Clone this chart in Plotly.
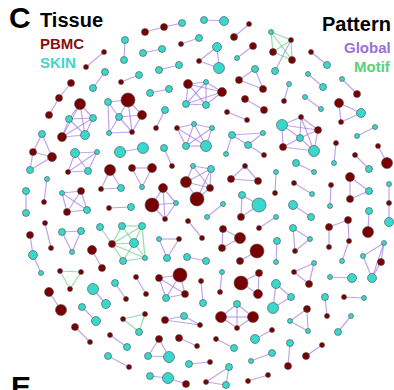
import plotly.graph_objects as go

# ---------------- data ----------------
node_x = [125,124,104,86,105,93,121,139,71,59,49,80,69,93,62,85,108,128,119,142,
          109,132,145,164,182,204,224,249,234,181,199,143,162,217,219,199,253,237,159,179,
          188,206,222,186,206,255,239,263,245,264,150,169,165,156,227,247,177,194,212,186,
          206,271,291,273,292,275,311,327,308,323,289,284,305,321,342,357,339,361,341,282,
          263,318,300,283,314,232,248,226,264,375,357,336,334,378,387,355,369,296,314,276,
          275,350,369,350,389,389,389,294,312,331,330,293,311,369,368,348,329,329,349,342,
          384,363,381,372,276,259,293,310,295,277,276,242,259,241,223,207,245,231,258,193,
          211,186,210,197,163,176,152,165,164,172,132,152,142,120,143,42,33,52,30,75,
          97,68,88,110,101,121,47,44,26,26,62,81,67,87,109,131,45,51,30,33,
          41,62,81,72,100,122,142,112,134,123,145,92,102,159,179,188,202,223,240,222,
          257,240,115,126,60,81,70,49,61,93,106,82,96,75,90,110,127,108,129,123,
          145,139,136,146,159,180,166,185,167,187,206,201,203,222,220,241,259,258,165,184,
          200,221,237,253,237,159,148,169,179,197,216,234,255,272,251,272,189,210,150,168,
          186,206,229,226,248,268,314,294,309,330,352,325,327,344,364,276,291,273,307,290,
          308,351,338,290,288,322,306,301]
node_y = [40,60,52,67,72,88,82,75,83,98,115,104,119,118,137,135,102,100,117,115,
          133,132,32,27,23,20,21,24,37,44,38,53,49,47,68,61,46,58,70,65,
          84,82,92,104,105,69,80,89,99,110,93,89,110,128,112,120,128,124,128,146,
          146,32,40,52,60,71,52,65,74,87,84,101,97,109,79,94,103,113,122,125,
          133,130,138,147,151,135,145,154,155,127,136,143,163,146,163,155,169,163,172,172,
          193,177,191,199,184,203,222,183,194,185,206,205,217,211,232,220,227,247,241,261,
          243,256,262,278,217,228,228,239,251,241,262,195,205,217,204,217,166,179,181,166,
          169,182,188,199,188,203,205,219,148,166,168,168,187,152,148,134,152,157,170,153,
          152,172,171,170,189,188,179,202,191,213,193,191,212,210,208,207,223,248,235,255,
          273,232,231,252,227,226,226,244,243,261,258,250,268,239,239,221,238,229,238,248,
          251,261,283,299,271,272,289,292,310,289,304,307,321,327,342,335,347,356,367,319,
          314,332,277,294,278,275,298,294,258,257,261,281,303,272,292,283,273,294,320,316,
          325,317,304,317,328,339,356,357,338,346,339,348,339,330,361,353,364,362,376,378,
          384,382,367,385,381,375,263,272,284,277,278,297,316,297,298,284,297,308,309,321,
          331,316,332,343,366,345,356,117]
node_tissue = list(
    "SSPPSSPSPPPPSSPSSPSP"
    "SPPPSSSPPPSSSSSPPSSS"
    "PSPSSSPPPPSSSPPPPSSS"
    "SSPPPSPSSSSPSSSPPSPS"
    "SPSPSSSSPSSPSPPPSSSS"
    "PPSPSPSPSPSSSSPPPPPS"
    "SSPSSPSSPSSSSPSSPPPS"
    "SPPPPSPPSPPPSSSSPPSS"
    "SPSPPSSPSSSPPSPSPPPS"
    "SSSSSSSPSSSPPSPPPPPP"
    "PPSPPPPPPSSSSPPPSSPP"
    "PSPPPPSPSSSPSSPPPPPS"
    "PPSPPPSSPPPSSPSSSPSS"
    "PPSSPPSPPSSSPPSSSSPS"
    "SSSSPPPP")
node_clones = [2,2,1,1,2,2,1,2,2,2,2,4,2,2,3,3,2,5,2,3,
               1,1,2,2,2,2,3,1,2,1,2,2,2,3,4,1,2,1,2,2,
               3,1,3,2,2,2,2,2,2,2,2,2,2,1,1,1,1,1,1,2,
               4,1,1,2,2,2,1,2,1,2,1,1,1,1,1,2,3,3,1,4,
               1,2,2,2,4,2,2,1,1,1,1,1,1,1,4,1,2,2,1,1,
               1,3,2,2,1,1,3,1,1,1,1,3,2,2,4,2,2,1,1,1,
               1,1,2,3,1,1,2,1,1,2,1,2,5,2,1,1,1,2,2,1,
               2,4,2,5,3,1,5,1,2,1,2,3,1,4,4,2,2,3,2,3,
               1,1,2,4,1,2,1,1,2,2,1,2,2,2,1,2,1,1,2,3,
               1,2,2,1,2,2,2,2,3,2,1,3,2,1,1,1,1,2,4,2,
               5,2,2,1,1,1,1,3,4,4,3,2,3,2,1,1,2,2,1,1,
               1,2,1,1,2,5,2,2,2,2,2,1,2,1,1,5,2,3,2,2,
               1,4,2,4,1,2,2,4,2,1,1,2,3,1,1,2,2,1,2,4,
               2,1,2,2,1,1,1,1,2,1,3,2,1,1,1,3,2,4,2,1,
               1,1,2,2,2,1,2,1]

global_from = [1,3,5,7,9,10,12,12,12,12,13,13,13,14,14,15,17,17,18,18,19,19,19,21,20,18,17,
               23,24,26,28,30,32,34,36,36,37,39,41,41,41,41,42,42,42,43,44,43,46,46,47,49,51,53,55,
               57,57,57,58,58,58,59,59,60,66,67,69,71,73,75,77,77,78,
               288,288,288,288,80,80,80,83,83,83,82,84,86,86,86,87,87,
               90,92,94,96,98,100,102,102,103,105,106,108,110,112,114,116,117,116,119,
               121,121,122,123,121,125,127,128,127,130,132,132,133,135,137,137,138,
               140,140,140,141,141,142,142,143,141,145,145,145,146,146,147,149,151,151,152,154,
               156,156,157,157,158,160,160,160,161,161,162,164,164,165,167,169,
               171,171,171,172,172,173,175,177,179,180,182,182,183,
               192,194,194,195,196,198,198,199,201,203,208,210,212,214,216,218,
               223,225,225,226,226,227,225,230,232,234,236,236,237,239,239,240,
               242,242,242,243,243,244,246,246,247,249,251,253,255,257,259,260,262,262,263,265,
               267,267,268,270,272,274,276,276,277,279,279,280,282,284,286]
global_to = [2,4,6,8,10,11,13,14,15,16,14,15,16,15,16,16,18,19,19,20,20,21,22,22,22,22,21,
             24,25,27,29,31,33,35,34,35,38,40,42,43,44,45,43,44,45,45,45,44,47,48,48,50,52,54,56,
             58,60,61,59,60,61,60,61,61,63,68,70,72,74,76,78,79,79,
             80,83,82,85,83,82,84,82,84,85,85,85,81,87,88,81,89,
             91,93,95,97,99,101,103,104,104,106,107,109,111,113,115,117,118,119,120,
             122,123,124,124,124,126,128,129,129,131,133,134,134,136,138,139,139,
             141,142,143,142,143,143,144,144,144,146,147,148,147,148,148,150,152,153,153,155,
             157,158,158,159,159,161,162,163,162,163,163,165,166,166,168,170,
             172,173,174,173,174,174,176,178,180,181,183,184,184,
             193,195,229,229,197,199,200,200,202,204,209,211,213,215,217,219,
             224,226,227,227,228,228,228,231,233,235,237,238,238,240,241,241,
             243,244,245,244,245,245,247,248,248,250,252,254,256,258,260,261,263,264,264,266,
             268,269,269,271,273,275,277,278,278,280,281,281,283,285,287]
motif_from = [62,62,62,63,63,64,185,186,186,186,187,187,188,188,189,189,190,187,188,205,205,206,220,220,221]
motif_to = [63,64,65,64,65,65,188,187,188,189,188,189,189,190,190,191,191,191,191,206,207,207,221,222,222]

tissue_names = ["PBMC", "SKIN"]
tissue_colors = {"PBMC": "#780000", "SKIN": "#3ad8cc"}
tissue_label_colors = {"PBMC": "#8a1010", "SKIN": "#3fd6ca"}
pattern_names = ["Global", "Motif"]
pattern_colors = {"Global": "#9b6fd6", "Motif": "#5ccf7a"}
edge_colors = {"Global": "rgba(165,125,228,0.7)", "Motif": "rgba(100,208,130,0.7)"}
clone_to_size = {1: 5, 2: 7, 3: 9, 4: 11, 5: 14}

# ---------------- figure ----------------
fig = go.Figure()

def edge_xy(src, dst):
    xs, ys = [], []
    for a, b in zip(src, dst):
        xs += [node_x[a - 1], node_x[b - 1], None]
        ys += [node_y[a - 1], node_y[b - 1], None]
    return xs, ys

for pat, src, dst in [("Global", global_from, global_to), ("Motif", motif_from, motif_to)]:
    ex, ey = edge_xy(src, dst)
    fig.add_trace(go.Scatter(x=ex, y=ey, mode="lines",
                             line=dict(color=edge_colors[pat], width=1.2),
                             hoverinfo="skip", showlegend=False))

for t in tissue_names:
    idx = [i for i, v in enumerate(node_tissue) if (v == "P") == (t == "PBMC")]
    fig.add_trace(go.Scatter(
        x=[node_x[i] for i in idx], y=[node_y[i] for i in idx], mode="markers",
        opacity=1,
        marker=dict(size=[clone_to_size[node_clones[i]] for i in idx], opacity=1,
                    color=tissue_colors[t], line=dict(color="#4a4a4a", width=0.6)),
        name=t, showlegend=False, cliponaxis=False))

font = "Liberation Sans, Arial, sans-serif"
ann = [
    dict(x=7, y=17, text="<b>C</b>", xanchor="left", size=30, color="black"),
    dict(x=38, y=20, text="<b>Tissue</b>", xanchor="left", size=20, color="black"),
    dict(x=38, y=43, text="<b>PBMC</b>", xanchor="left", size=15, color=tissue_label_colors["PBMC"]),
    dict(x=38, y=62, text="<b>SKIN</b>", xanchor="left", size=15, color=tissue_label_colors["SKIN"]),
    dict(x=393, y=24, text="<b>Pattern</b>", xanchor="right", size=20, color="black"),
    dict(x=393, y=47, text="<b>Global</b>", xanchor="right", size=15, color=pattern_colors["Global"]),
    dict(x=393, y=66, text="<b>Motif</b>", xanchor="right", size=15, color=pattern_colors["Motif"]),
    dict(x=9, y=386, text="<b>E</b>", xanchor="left", size=30, color="black"),
]
for a in ann:
    fig.add_annotation(x=a["x"], y=a["y"], xref="x", yref="y", text=a["text"],
                       xanchor=a["xanchor"], yanchor="middle", showarrow=False,
                       font=dict(family=font, size=a["size"], color=a["color"]))

fig.update_layout(width=394, height=390, margin=dict(l=0, r=0, t=0, b=0),
                  paper_bgcolor="white", plot_bgcolor="white", showlegend=False)
fig.update_xaxes(range=[0, 394], visible=False, fixedrange=True)
fig.update_yaxes(range=[390, 0], visible=False, fixedrange=True)

fig.write_html("out.html")
